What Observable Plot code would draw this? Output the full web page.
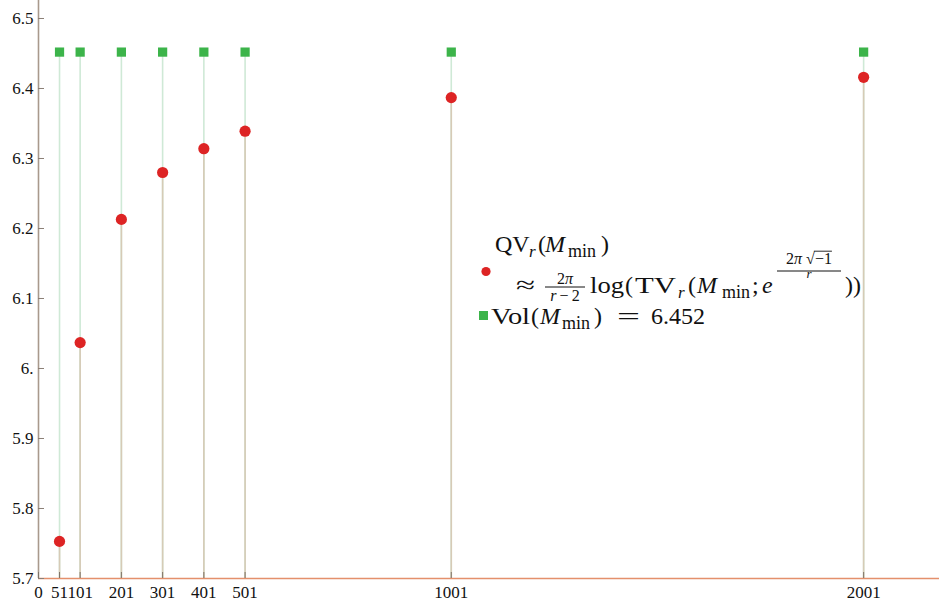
<!DOCTYPE html>
<html>
<head>
<meta charset="utf-8">
<script src="https://cdn.jsdelivr.net/npm/d3@7"></script>
<script src="https://cdn.jsdelivr.net/npm/@observablehq/plot@0.6"></script>
<style>
  html, body { margin: 0; padding: 0; background: #fff; }
  #chart { width: 939px; height: 603px; }
  #chart svg, #chart svg text { font-family: 'Liberation Serif', 'Times New Roman', serif !important; }
</style>
</head>
<body>
<div id="chart"></div>
<script>
// ---- data ----
const rValues = [51, 101, 201, 301, 401, 501, 1001, 2001];
const qvValues = [5.753, 6.037, 6.213, 6.280, 6.314, 6.339, 6.387, 6.416];
const volValue = 6.452;
const yTicks = [5.7, 5.8, 5.9, 6.0, 6.1, 6.2, 6.3, 6.4, 6.5];
const yTickLabels = ["5.7", "5.8", "5.9", "6.", "6.1", "6.2", "6.3", "6.4", "6.5"];
const xTicks = [0, 51, 101, 201, 301, 401, 501, 1001, 2001];
const xTickLabels = ["0", "51", "101", "201", "301", "401", "501", "1001", "2001"];

const qvData = rValues.map((r, i) => ({r, v: qvValues[i]}));
const volData = rValues.map(r => ({r, v: volValue}));

const RED = "#dd2424";
const GREEN = "#3cb44a";
const serif = "'Liberation Serif', 'Times New Roman', serif";

const chart = Plot.plot({
  width: 939,
  height: 603,
  marginLeft: 38,
  marginRight: 0,
  marginTop: 0,
  marginBottom: 25,
  x: {domain: [0, 2185]},
  y: {domain: [5.7, 6.5257]},
  style: {fontFamily: serif, fontSize: "17px", background: "#fff", color: "#111"},
  marks: [
    Plot.ruleX(volData, {x: "r", y1: 5.7, y2: "v", stroke: "#cfe9d6", strokeWidth: 1.6}),
    Plot.ruleX(qvData, {x: "r", y1: 5.7, y2: "v", stroke: "#d6cbb6", strokeWidth: 1.6}),
    Plot.ruleX([0], {stroke: "#a8998c", strokeWidth: 1.6}),
    Plot.ruleY([5.7], {stroke: "#e4906c", strokeWidth: 1.6}),
    Plot.axisY({ticks: yTicks, tickSize: 6, dx: 6, tickFormat: () => "", stroke: "#8a7f76", label: null}),
    Plot.axisY({ticks: yTicks, tickSize: 0, tickPadding: 5,
      tickFormat: d => yTickLabels[yTicks.findIndex(t => Math.abs(t - d) < 1e-9)], label: null}),
    Plot.axisX({ticks: xTicks, tickSize: 6, dy: -6, tickFormat: () => "", stroke: "#7f7468", label: null}),
    Plot.axisX({ticks: xTicks, tickSize: 0, tickPadding: 7,
      tickFormat: d => xTickLabels[xTicks.indexOf(d)], label: null}),
    Plot.dot(volData, {x: "r", y: "v", symbol: "square", r: 5.2, fill: GREEN, stroke: "none"}),
    Plot.dot(qvData, {x: "r", y: "v", r: 5.6, fill: RED, stroke: "none"})
  ]
});
document.getElementById("chart").appendChild(chart);

// ---- legend (math typeset manually with SVG text) ----
const NS = "http://www.w3.org/2000/svg";
const legend = document.createElementNS(NS, "g");
legend.setAttribute("text-anchor", "start");
chart.appendChild(legend);
const BASE = 24;

function hline(g, x1, x2, y, w) {
  const l = document.createElementNS(NS, "line");
  l.setAttribute("x1", x1); l.setAttribute("x2", x2);
  l.setAttribute("y1", y); l.setAttribute("y2", y);
  l.setAttribute("stroke", "#111"); l.setAttribute("stroke-width", w);
  g.appendChild(l);
}
function txt(g, it, x, y) {
  const t = document.createElementNS(NS, "text");
  const size = it.s || BASE;
  t.setAttribute("x", x);
  t.setAttribute("y", y + (it.dy || 0));
  t.setAttribute("font-size", size);
  t.setAttribute("font-family", serif);
  t.setAttribute("text-anchor", "start");
  if (it.i) t.setAttribute("font-style", "italic");
  if (it.len) { t.setAttribute("textLength", it.len); t.setAttribute("lengthAdjust", "spacingAndGlyphs"); }
  t.setAttribute("fill", "#111");
  t.textContent = it.t;
  g.appendChild(t);
  const w = it.len || t.getComputedTextLength();
  if (it.over) hline(g, x - 1, x + w, y + (it.dy || 0) - size * 0.8, 0.9);
  return w;
}
function run(g, x, base, items) {
  for (const it of items) {
    if (it.at != null) x = it.at;
    if (it.gap != null) { x += it.gap; continue; }
    if (it.frac) { x += frac(g, x, base, it); continue; }
    if (it.t == null) continue;
    x += txt(g, it, x, base);
  }
  return x;
}
function frac(g, x, base, f) {
  const tmp = document.createElementNS(NS, "g");
  g.appendChild(tmp);
  const wn = run(tmp, 0, 0, f.num);
  const wd = run(tmp, 0, 0, f.den);
  tmp.remove();
  const w = f.w || Math.max(wn, wd) + 2;
  run(g, x + (w - wn) / 2, base + f.numDy, f.num);
  run(g, x + (w - wd) / 2, base + f.denDy, f.den);
  hline(g, x, x + w, base + f.barDy, 1);
  return w;
}

const line1 = [
  {at: 495, t: "QV"}, {at: 529, t: "r", s: 17, i: true, dy: 5}, {at: 538, t: "("},
  {at: 545, t: "M", i: true}, {at: 568, t: "min", s: 18, dy: 5}, {at: 601, t: ")"}
];
const line2 = [
  {at: 516, t: "≈", len: 19},
  {at: 545, frac: true, w: 40, numDy: -9, denDy: 8, barDy: -6,
    num: [{t: "2", s: 16}, {t: "π", s: 16, i: true}],
    den: [{t: "r", s: 16, i: true}, {gap: 3}, {t: "−", s: 16}, {gap: 3}, {t: "2", s: 16}]},
  {at: 590, t: "log", len: 34}, {at: 625, t: "("}, {at: 635, t: "TV", len: 41},
  {at: 678, t: "r", s: 17, i: true, dy: 5}, {at: 688, t: "("}, {at: 697, t: "M", i: true},
  {at: 722, t: "min", s: 18, dy: 5}, {at: 752, t: ";"}, {at: 762, t: "e", i: true},
  {at: 777, frac: true, w: 64, numDy: -29, denDy: -15, barDy: -22,
    num: [{t: "2", s: 16}, {t: "π", s: 16, i: true}, {gap: 4}, {t: "√", s: 16}, {t: "−1", s: 16, over: true}],
    den: [{t: "r", s: 13, i: true}]},
  {at: 845, t: "))"}
];
const line3 = [
  {at: 491, t: "Vol", len: 39}, {at: 531, t: "("}, {at: 540, t: "M", i: true},
  {at: 562, t: "min", s: 18, dy: 5}, {at: 594, t: ")"}, {at: 617, t: "=", len: 23}, {at: 651, t: "6.452"}
];

run(legend, 495, 252, line1);
run(legend, 516, 293, line2);
run(legend, 491, 324, line3);

const dot = document.createElementNS(NS, "circle");
dot.setAttribute("cx", 486); dot.setAttribute("cy", 271.5); dot.setAttribute("r", 4.6);
dot.setAttribute("fill", RED);
legend.appendChild(dot);
const sq = document.createElementNS(NS, "rect");
sq.setAttribute("x", 479); sq.setAttribute("y", 311); sq.setAttribute("width", 9); sq.setAttribute("height", 9);
sq.setAttribute("fill", GREEN);
legend.appendChild(sq);
</script>
</body>
</html>
